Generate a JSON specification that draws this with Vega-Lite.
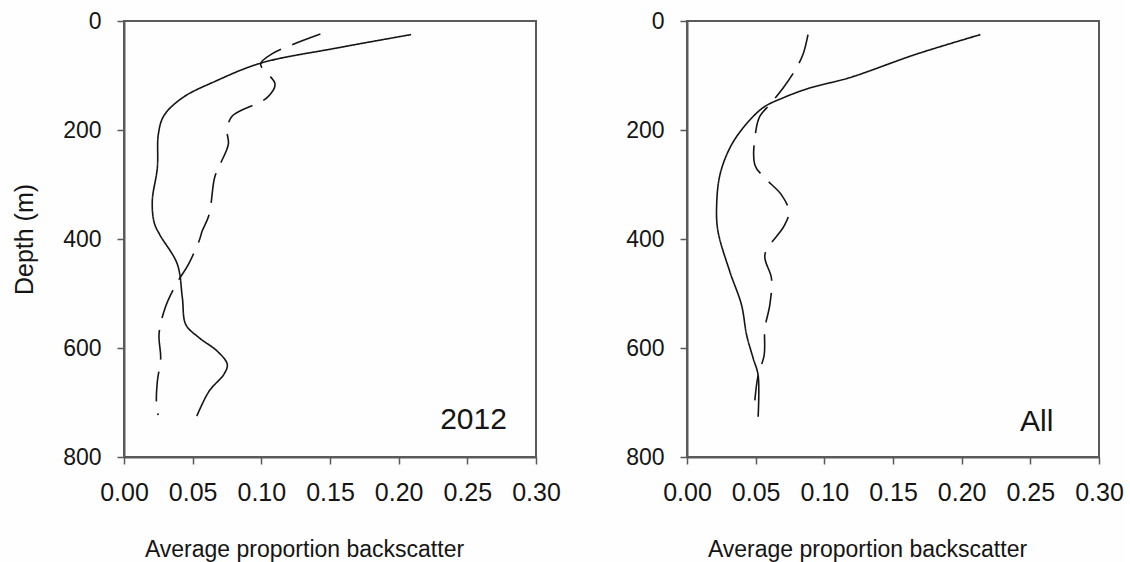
{
  "$schema": "https://vega.github.io/schema/vega-lite/v6.json",
  "background": "#fefefe",
  "padding": {"left": 11, "top": 9, "right": 0, "bottom": 0},
  "spacing": 62,
  "datasets": {
    "lines": [
      {"panel": "2012", "series": "solid", "x": 0.209, "depth": 25},
      {"panel": "2012", "series": "solid", "x": 0.154, "depth": 50},
      {"panel": "2012", "series": "solid", "x": 0.1, "depth": 77},
      {"panel": "2012", "series": "solid", "x": 0.067, "depth": 110},
      {"panel": "2012", "series": "solid", "x": 0.0425, "depth": 141},
      {"panel": "2012", "series": "solid", "x": 0.029, "depth": 174},
      {"panel": "2012", "series": "solid", "x": 0.025, "depth": 208},
      {"panel": "2012", "series": "solid", "x": 0.0243, "depth": 269},
      {"panel": "2012", "series": "solid", "x": 0.0206, "depth": 330},
      {"panel": "2012", "series": "solid", "x": 0.022, "depth": 370},
      {"panel": "2012", "series": "solid", "x": 0.026, "depth": 392},
      {"panel": "2012", "series": "solid", "x": 0.0388, "depth": 446},
      {"panel": "2012", "series": "solid", "x": 0.0425, "depth": 508},
      {"panel": "2012", "series": "solid", "x": 0.045, "depth": 557},
      {"panel": "2012", "series": "solid", "x": 0.0546, "depth": 581},
      {"panel": "2012", "series": "solid", "x": 0.068, "depth": 606},
      {"panel": "2012", "series": "solid", "x": 0.0752, "depth": 630},
      {"panel": "2012", "series": "solid", "x": 0.0728, "depth": 648},
      {"panel": "2012", "series": "solid", "x": 0.062, "depth": 679},
      {"panel": "2012", "series": "solid", "x": 0.053, "depth": 725},
      {"panel": "2012", "series": "dashed", "x": 0.143, "depth": 24},
      {"panel": "2012", "series": "dashed", "x": 0.118, "depth": 48},
      {"panel": "2012", "series": "dashed", "x": 0.108, "depth": 60},
      {"panel": "2012", "series": "dashed", "x": 0.0995, "depth": 79},
      {"panel": "2012", "series": "dashed", "x": 0.11, "depth": 116},
      {"panel": "2012", "series": "dashed", "x": 0.104, "depth": 141},
      {"panel": "2012", "series": "dashed", "x": 0.079, "depth": 174},
      {"panel": "2012", "series": "dashed", "x": 0.075, "depth": 199},
      {"panel": "2012", "series": "dashed", "x": 0.076, "depth": 226},
      {"panel": "2012", "series": "dashed", "x": 0.07, "depth": 263},
      {"panel": "2012", "series": "dashed", "x": 0.066, "depth": 287},
      {"panel": "2012", "series": "dashed", "x": 0.062, "depth": 355},
      {"panel": "2012", "series": "dashed", "x": 0.057, "depth": 385},
      {"panel": "2012", "series": "dashed", "x": 0.0546, "depth": 404},
      {"panel": "2012", "series": "dashed", "x": 0.047, "depth": 446},
      {"panel": "2012", "series": "dashed", "x": 0.038, "depth": 483},
      {"panel": "2012", "series": "dashed", "x": 0.03, "depth": 526},
      {"panel": "2012", "series": "dashed", "x": 0.0255, "depth": 575},
      {"panel": "2012", "series": "dashed", "x": 0.0267, "depth": 618},
      {"panel": "2012", "series": "dashed", "x": 0.0243, "depth": 661},
      {"panel": "2012", "series": "dashed", "x": 0.0236, "depth": 697},
      {"panel": "2012", "series": "dashed", "x": 0.0248, "depth": 723},
      {"panel": "All", "series": "solid", "x": 0.2136, "depth": 25},
      {"panel": "All", "series": "solid", "x": 0.1668, "depth": 61},
      {"panel": "All", "series": "solid", "x": 0.1184, "depth": 104},
      {"panel": "All", "series": "solid", "x": 0.0893, "depth": 123},
      {"panel": "All", "series": "solid", "x": 0.07, "depth": 141},
      {"panel": "All", "series": "solid", "x": 0.0554, "depth": 159},
      {"panel": "All", "series": "solid", "x": 0.0409, "depth": 196},
      {"panel": "All", "series": "solid", "x": 0.0312, "depth": 233},
      {"panel": "All", "series": "solid", "x": 0.024, "depth": 282},
      {"panel": "All", "series": "solid", "x": 0.0216, "depth": 337},
      {"panel": "All", "series": "solid", "x": 0.0225, "depth": 385},
      {"panel": "All", "series": "solid", "x": 0.0312, "depth": 460},
      {"panel": "All", "series": "solid", "x": 0.0397, "depth": 521},
      {"panel": "All", "series": "solid", "x": 0.0434, "depth": 576},
      {"panel": "All", "series": "solid", "x": 0.0482, "depth": 619},
      {"panel": "All", "series": "solid", "x": 0.0518, "depth": 650},
      {"panel": "All", "series": "solid", "x": 0.0518, "depth": 726},
      {"panel": "All", "series": "dashed", "x": 0.0881, "depth": 25},
      {"panel": "All", "series": "dashed", "x": 0.0845, "depth": 61},
      {"panel": "All", "series": "dashed", "x": 0.079, "depth": 89},
      {"panel": "All", "series": "dashed", "x": 0.07, "depth": 123},
      {"panel": "All", "series": "dashed", "x": 0.0603, "depth": 153},
      {"panel": "All", "series": "dashed", "x": 0.053, "depth": 175},
      {"panel": "All", "series": "dashed", "x": 0.0501, "depth": 202},
      {"panel": "All", "series": "dashed", "x": 0.0494, "depth": 264},
      {"panel": "All", "series": "dashed", "x": 0.0567, "depth": 288},
      {"panel": "All", "series": "dashed", "x": 0.0688, "depth": 319},
      {"panel": "All", "series": "dashed", "x": 0.0743, "depth": 350},
      {"panel": "All", "series": "dashed", "x": 0.0705, "depth": 377},
      {"panel": "All", "series": "dashed", "x": 0.0567, "depth": 429},
      {"panel": "All", "series": "dashed", "x": 0.0615, "depth": 472},
      {"panel": "All", "series": "dashed", "x": 0.0603, "depth": 521},
      {"panel": "All", "series": "dashed", "x": 0.0567, "depth": 564},
      {"panel": "All", "series": "dashed", "x": 0.0562, "depth": 613},
      {"panel": "All", "series": "dashed", "x": 0.0518, "depth": 650},
      {"panel": "All", "series": "dashed", "x": 0.0494, "depth": 696}
    ],
    "labels": [
      {"panel": "2012", "x": 0.2545, "depth": 749, "label": "2012"},
      {"panel": "All", "x": 0.2546, "depth": 752, "label": "All"}
    ]
  },
  "hconcat": [
    {
      "width": 412,
      "height": 436,
      "layer": [
        {
          "data": {"name": "lines"},
          "transform": [{"filter": "datum.panel === '2012'"}],
          "mark": {"type": "line", "interpolate": "catmull-rom", "strokeWidth": 1.6, "color": "#151515"},
          "encoding": {
            "x": {"field": "x", "type": "quantitative", "scale": {"domain": [0, 0.3], "nice": false, "zero": false},
              "axis": {"values": [0, 0.05, 0.1, 0.15, 0.2, 0.25, 0.3], "format": ".2f", "title": "Average proportion backscatter"}},
            "y": {"field": "depth", "type": "quantitative", "scale": {"domain": [0, 800], "reverse": true, "nice": false},
              "axis": {"values": [0, 200, 400, 600, 800], "title": "Depth (m)"}},
            "detail": {"field": "series"},
            "order": {"field": "depth", "type": "quantitative"},
            "strokeDash": {"field": "series", "type": "nominal", "scale": {"domain": ["solid", "dashed"], "range": [[1, 0], [30, 12]]}, "legend": null}
          }
        },
        {
          "data": {"name": "labels"},
          "transform": [{"filter": "datum.panel === '2012'"}],
          "mark": {"type": "text", "font": "Liberation Sans", "fontSize": 30, "align": "center", "baseline": "alphabetic", "color": "#151515"},
          "encoding": {
            "x": {"field": "x", "type": "quantitative"},
            "y": {"field": "depth", "type": "quantitative"},
            "text": {"field": "label"}
          }
        }
      ]
    },
    {
      "width": 412,
      "height": 436,
      "layer": [
        {
          "data": {"name": "lines"},
          "transform": [{"filter": "datum.panel === 'All'"}],
          "mark": {"type": "line", "interpolate": "catmull-rom", "strokeWidth": 1.6, "color": "#151515"},
          "encoding": {
            "x": {"field": "x", "type": "quantitative", "scale": {"domain": [0, 0.3], "nice": false, "zero": false},
              "axis": {"values": [0, 0.05, 0.1, 0.15, 0.2, 0.25, 0.3], "format": ".2f", "title": "Average proportion backscatter"}},
            "y": {"field": "depth", "type": "quantitative", "scale": {"domain": [0, 800], "reverse": true, "nice": false},
              "axis": {"values": [0, 200, 400, 600, 800], "title": null}},
            "detail": {"field": "series"},
            "order": {"field": "depth", "type": "quantitative"},
            "strokeDash": {"field": "series", "type": "nominal", "scale": {"domain": ["solid", "dashed"], "range": [[1, 0], [30, 12]]}, "legend": null}
          }
        },
        {
          "data": {"name": "labels"},
          "transform": [{"filter": "datum.panel === 'All'"}],
          "mark": {"type": "text", "font": "Liberation Sans", "fontSize": 30, "align": "center", "baseline": "alphabetic", "color": "#151515"},
          "encoding": {
            "x": {"field": "x", "type": "quantitative"},
            "y": {"field": "depth", "type": "quantitative"},
            "text": {"field": "label"}
          }
        }
      ]
    }
  ],
  "resolve": {"scale": {"strokeDash": "independent"}},
  "config": {
    "view": {"stroke": "#5a5a5a", "strokeWidth": 2},
    "axis": {
      "grid": false,
      "labelFlush": false,
      "labelOverlap": false,
      "domainColor": "#5a5a5a",
      "domainWidth": 2,
      "tickColor": "#5a5a5a",
      "tickWidth": 1.5,
      "tickSize": 7,
      "labelFont": "Liberation Sans",
      "labelFontSize": 23,
      "labelColor": "#151515",
      "titleFont": "Liberation Sans",
      "titleFontSize": 23,
      "titleFontWeight": "normal",
      "titleColor": "#151515"
    },
    "axisX": {
      "labelFontSize": 25,
      "labelBaseline": "alphabetic",
      "labelPadding": 36,
      "titleX": 180,
      "titleY": 99,
      "titleAlign": "center",
      "titleBaseline": "alphabetic"
    },
    "axisY": {
      "labelPadding": 16,
      "labelBaseline": "middle",
      "titlePadding": 25,
      "titleFontSize": 25
    }
  }
}
